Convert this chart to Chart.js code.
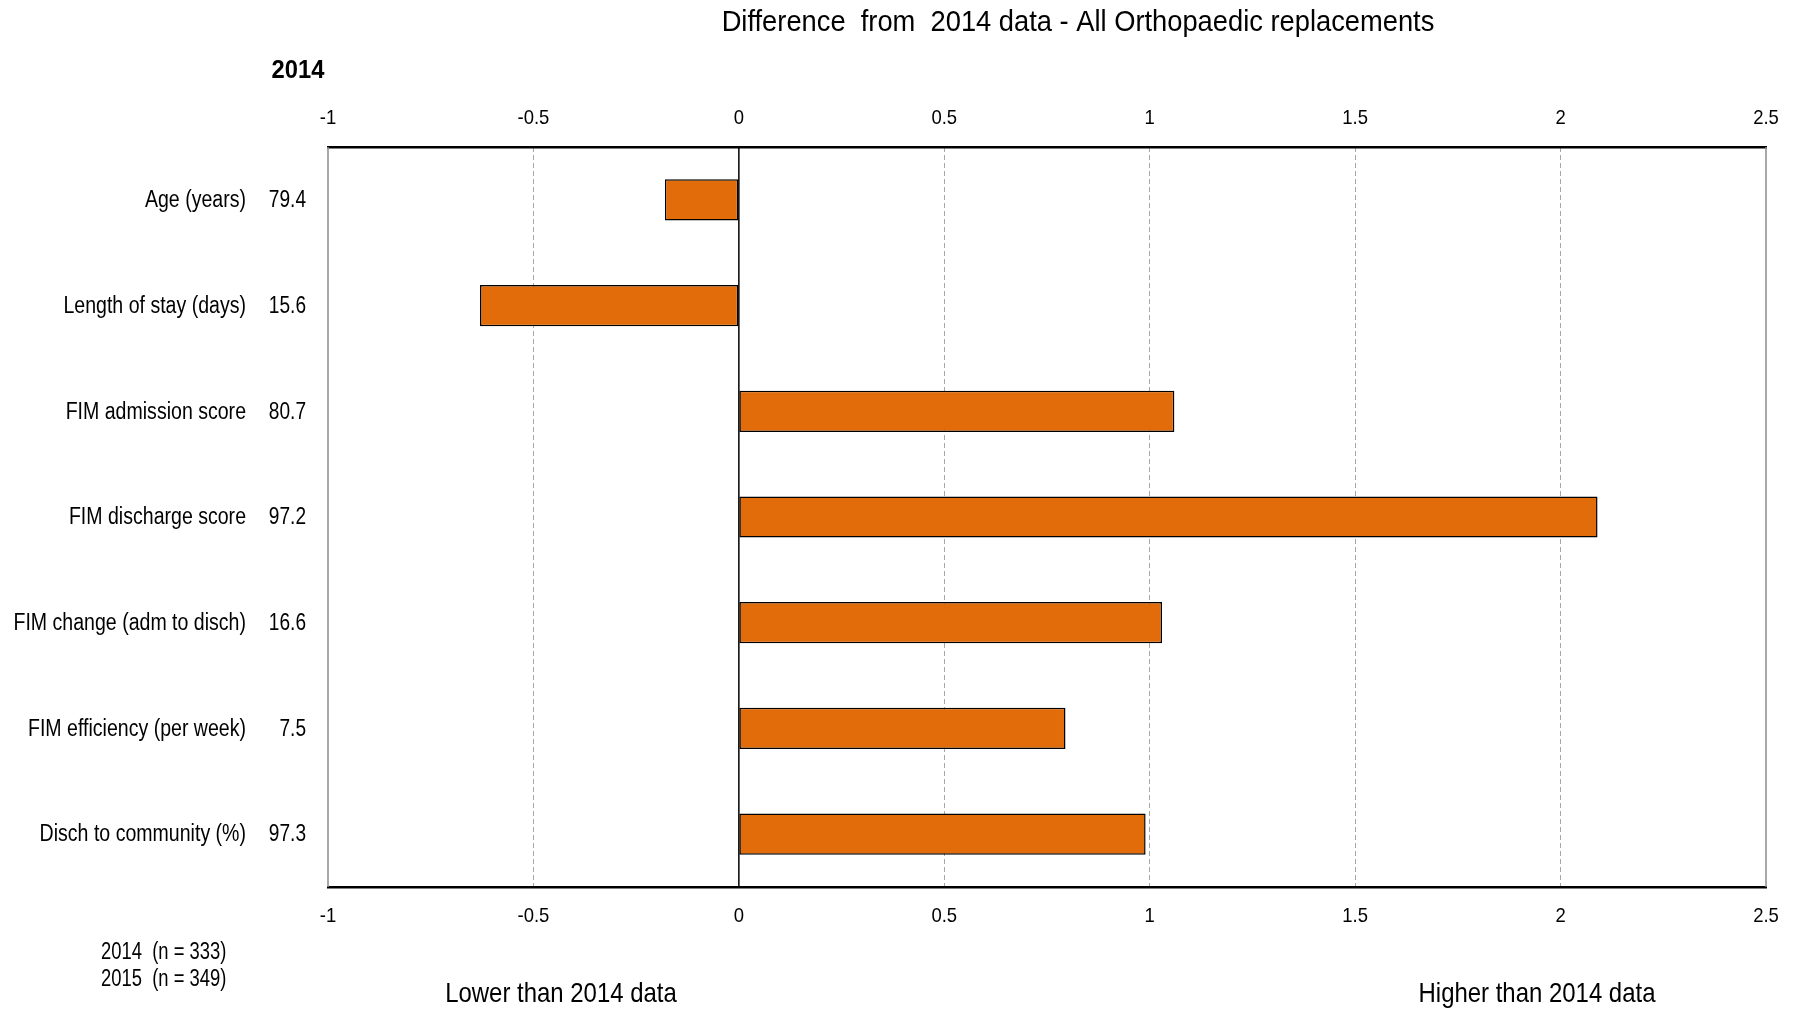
<!DOCTYPE html>
<html>
<head>
<meta charset="utf-8">
<script src="https://cdn.jsdelivr.net/npm/chart.js@4"></script>
<style>
  html, body { margin: 0; padding: 0; background: #ffffff; }
  #wrap { width: 1800px; height: 1009px; }
</style>
</head>
<body>
<div id="wrap"><canvas id="diffChart" width="1800" height="1009"></canvas></div>
<script>
const categories = [
    "Age (years)",
    "Length of stay (days)",
    "FIM admission score",
    "FIM discharge score",
    "FIM change (adm to disch)",
    "FIM efficiency (per week)",
    "Disch to community (%)",
];
const values2014 = ["79.4", "15.6", "80.7", "97.2", "16.6", "7.5", "97.3"];
const differences = [-0.18, -0.63, 1.06, 2.09, 1.03, 0.795, 0.99];
const xTicks = [-1, -0.5, 0, 0.5, 1, 1.5, 2, 2.5];
const sampleNotes = ["2014  (n = 333)", "2015  (n = 349)"];

// no narrow font installed, so squeeze Liberation Sans sideways
const FONT = "'Liberation Sans', Arial, sans-serif";

function narrowText(ctx, text, x, y, align, font, squeeze) {
    ctx.save();
    ctx.font = font;
    ctx.textAlign = align;
    ctx.textBaseline = "middle";
    ctx.translate(x, y);
    ctx.scale(squeeze, 1);
    ctx.fillText(text, 0, 0);
    ctx.restore();
}

const decorations = {
    id: "decorations",
    beforeDatasetsDraw(chart) {
        const { ctx, chartArea, scales } = chart;
        const x = scales.x;
        ctx.save();
        // frame sides
        ctx.strokeStyle = "#8c8c8c";
        ctx.lineWidth = 1.5;
        ctx.beginPath();
        ctx.moveTo(x.getPixelForValue(-1), chartArea.top);
        ctx.lineTo(x.getPixelForValue(-1), chartArea.bottom);
        ctx.moveTo(x.getPixelForValue(2.5), chartArea.top);
        ctx.lineTo(x.getPixelForValue(2.5), chartArea.bottom);
        ctx.stroke();
        // zero line
        ctx.strokeStyle = "#000000";
        ctx.lineWidth = 1.5;
        ctx.beginPath();
        ctx.moveTo(x.getPixelForValue(0), chartArea.top);
        ctx.lineTo(x.getPixelForValue(0), chartArea.bottom);
        ctx.stroke();
        ctx.restore();
    },
    afterDraw(chart) {
        const { ctx, scales, chartArea } = chart;
        const y = scales.y;
        const x = scales.x;
        ctx.fillStyle = "#000000";

        const labelFont = "23px " + FONT;
        categories.forEach((name, i) => {
            const py = y.getPixelForValue(i) + 1;
            narrowText(ctx, name, 246, py, "right", labelFont, 0.85);
            narrowText(ctx, values2014[i], 306, py, "right", labelFont, 0.83);
        });

        // tick labels on both x axes
        xTicks.forEach((v) => {
            const px = x.getPixelForValue(v);
            narrowText(ctx, String(v), px, chartArea.top - 29, "center", "21px " + FONT, 0.88);
            narrowText(ctx, String(v), px, chartArea.bottom + 29, "center", "21px " + FONT, 0.88);
        });

        narrowText(ctx, "Difference  from  2014 data - All Orthopaedic replacements", 1078, 23, "center", "30px " + FONT, 0.91);
        narrowText(ctx, "2014", 298, 71, "center", "bold 25px " + FONT, 0.95);
        narrowText(ctx, "Lower than 2014 data", 561, 994, "center", "28px " + FONT, 0.855);
        narrowText(ctx, "Higher than 2014 data", 1537, 994, "center", "28px " + FONT, 0.855);
        narrowText(ctx, sampleNotes[0], 101, 953, "left", "23px " + FONT, 0.8);
        narrowText(ctx, sampleNotes[1], 101, 980, "left", "23px " + FONT, 0.8);
    },
};

const gridColor = (c) => {
    const v = c.tick ? c.tick.value : null;
    return (v === -1 || v === 0 || v === 2.5) ? "rgba(0,0,0,0)" : "#a6a6a6";
};

new Chart(document.getElementById("diffChart"), {
    type: "bar",
    data: {
        labels: categories,
        datasets: [{
            data: differences,
            backgroundColor: "#e36c0a",
            borderColor: "#000000",
            borderWidth: 1.5,
            borderSkipped: false,
            barPercentage: 0.39,
            categoryPercentage: 1,
        }],
    },
    options: {
        responsive: false,
        animation: false,
        indexAxis: "y",
        layout: { padding: { left: 328, right: 34, top: 97, bottom: 72 } },
        plugins: {
            legend: { display: false },
            tooltip: { enabled: false },
        },
        scales: {
            x: {
                position: "bottom",
                min: -1,
                max: 2.5,
                afterBuildTicks: (scale) => { scale.ticks = xTicks.map((v) => ({ value: v })); },
                ticks: { display: false },
                grid: { color: gridColor, lineWidth: 1, drawTicks: false },
                border: { display: true, color: "#000000", width: 2.5, dash: [5, 3] },
                afterFit: (scale) => { scale.height = 50; },
            },
            x2: {
                position: "top",
                axis: "x",
                min: -1,
                max: 2.5,
                ticks: { display: false },
                grid: { display: false, drawTicks: false },
                border: { display: true, color: "#000000", width: 2.5 },
                afterFit: (scale) => { scale.height = 50; },
            },
            y: {
                display: false,
                offset: true,
                grid: { display: false },
            },
        },
    },
    plugins: [decorations],
});
</script>
</body>
</html>
